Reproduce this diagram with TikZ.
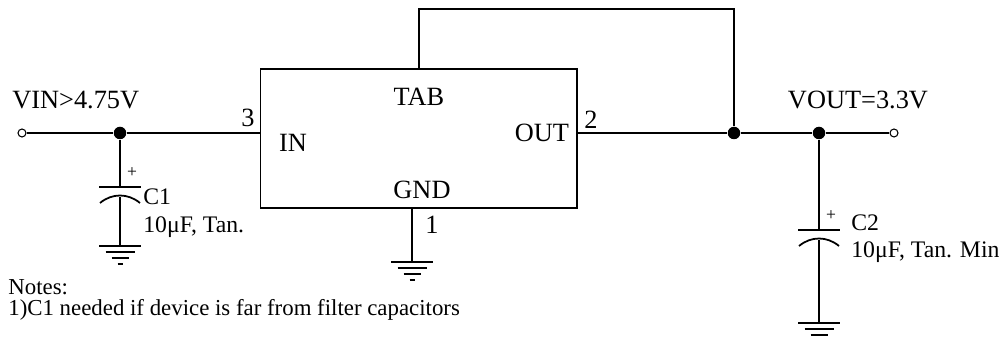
\documentclass[tikz,border=0pt]{standalone}
\usepackage{fontspec}
\setmainfont{Liberation Serif}
\begin{document}
\begin{tikzpicture}[x=0.02cm,y=-0.02cm,
    wire/.style={line width=1pt},
    dot/.style={circle,fill,inner sep=0pt,minimum size=0.25cm},
    term/.style={circle,draw,fill=white,inner sep=0pt,minimum size=0.16cm,line width=0.6pt},
    lbl/.style={inner sep=0pt,font=\fontsize{15}{15}\selectfont},
    clbl/.style={inner sep=0pt,font=\fontsize{13.5}{13.5}\selectfont},
    small/.style={inner sep=0pt,font=\fontsize{13}{13}\selectfont},
    gnd/.pic={\draw[wire] (-21,0) -- (21,0) (-14.5,6) -- (14.5,6) (-8.5,12) -- (8.5,12) (-2.5,18) -- (2.5,18);},
    cap/.pic={\draw[wire] (-21,0) -- (21,0);
        \draw[wire] (-20,16) .. controls (-8,6) and (8,6) .. (20,16);
        \node[inner sep=0pt,font=\fontsize{10}{10}\selectfont] at (12,-14) {+};}
  ]
  \useasboundingbox (0,0) rectangle (1000,340);
  % regulator
  \node[draw,line width=0.6pt,minimum width=6.34cm,minimum height=2.78cm,inner sep=0pt] (reg) at (418.5,138.5) {};
  \node[lbl] at (419,97) {TAB};
  \node[lbl] at (293,143) {IN};
  \node[lbl] at (542,133) {OUT};
  \node[lbl] at (422,190) {GND};
  \coordinate (pin3) at (260,133);
  \coordinate (pin2) at (577,133);
  \coordinate (pin1) at (412,208);
  \coordinate (tab) at (419,69);
  % input side
  \node[term] (vin) at (22,133) {};
  \node[dot] (j1) at (120,133) {};
  \coordinate (c1top) at (120,187);
  \coordinate (c1bot) at (120,197);
  \coordinate (g1) at (120,246);
  \draw[wire] (vin) -- (j1) -- (pin3);
  \draw[wire] (j1) -- (c1top);
  \draw[wire] (c1bot) -- (g1);
  \pic at (c1top) {cap};
  \pic at (g1) {gnd};
  \node[lbl,anchor=west] at (12,100) {VIN>4.75V};
  \node[lbl] at (248,118) {3};
  \node[clbl,anchor=west] at (143,197) {C1};
  \node[clbl,anchor=west] at (143,227) {10μF, Tan.};
  % gnd pin
  \coordinate (g2) at (412,262);
  \draw[wire] (pin1) -- (g2);
  \pic at (g2) {gnd};
  \node[lbl] at (432,225) {1};
  % output side
  \node[dot] (j2) at (734,133) {};
  \node[dot] (j3) at (819,133) {};
  \node[term] (vout) at (894,133) {};
  \coordinate (c2top) at (819,230);
  \coordinate (c2bot) at (819,240);
  \coordinate (g3) at (819,323);
  \draw[wire] (pin2) -- (j2) -- (j3) -- (vout);
  \draw[wire] (tab) -- (419,9) -- (734,9) -- (j2);
  \draw[wire] (j3) -- (c2top);
  \draw[wire] (c2bot) -- (g3);
  \pic at (c2top) {cap};
  \pic at (g3) {gnd};
  \node[lbl] at (591,120) {2};
  \node[lbl] at (858,100) {VOUT=3.3V};
  \node[clbl,anchor=west] at (851,223) {C2};
  \node[clbl,anchor=west] at (851,252) {10μF, Tan. Min};
  % notes
  \node[small,anchor=west] at (8,287) {Notes:};
  \node[small,anchor=west] at (8,310) {1)C1 needed if device is far from filter capacitors};
\end{tikzpicture}
\end{document}
